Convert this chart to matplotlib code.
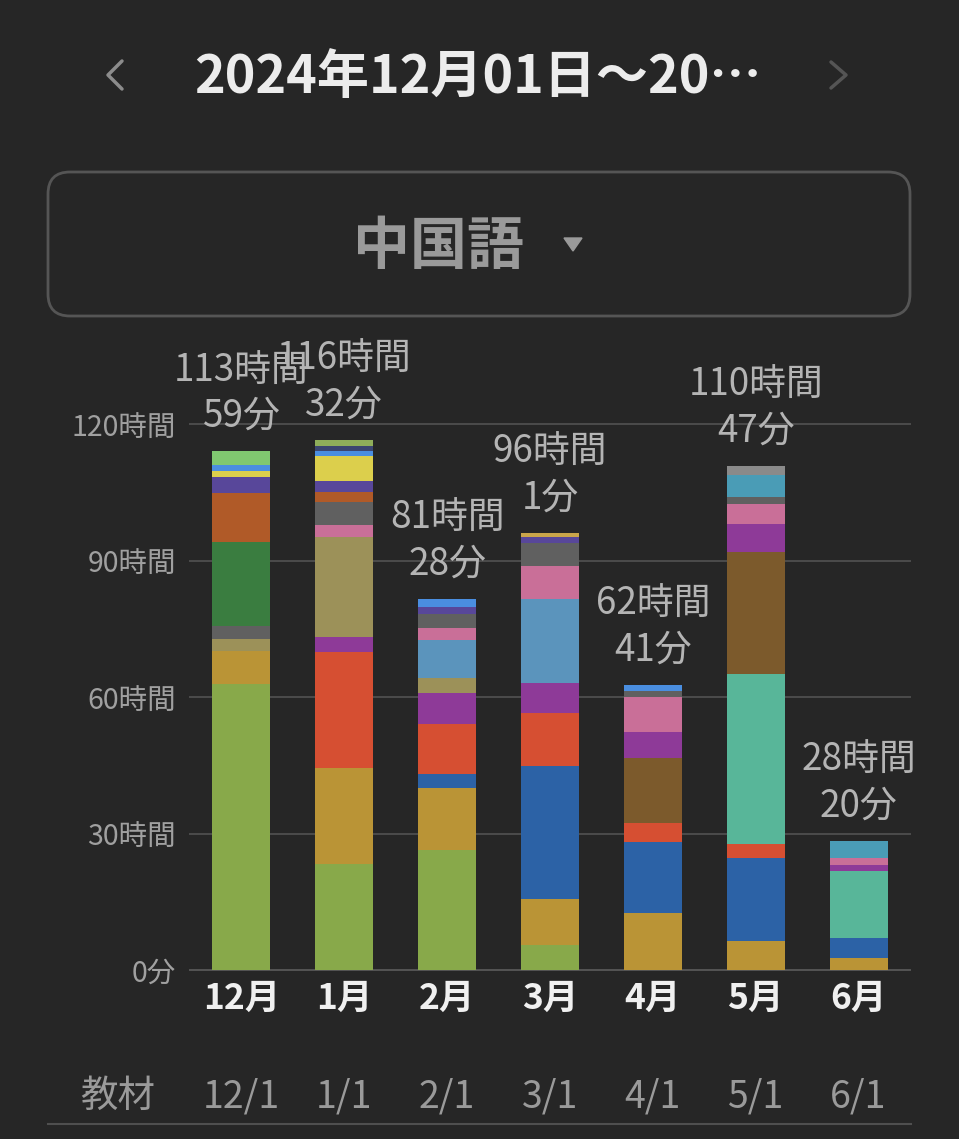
import numpy as np
import matplotlib
matplotlib.use("Agg")
import matplotlib.pyplot as plt
from matplotlib.patches import FancyBboxPatch, Polygon
from matplotlib.transforms import blended_transform_factory

plt.rcParams['font.family'] = ['Noto Sans CJK JP', 'DejaVu Sans']

BG = '#262626'

# months on the x axis and the row of start dates below
months = ["12月", "1月", "2月", "3月", "4月", "5月", "6月"]
start_dates = ["12/1", "1/1", "2/1", "3/1", "4/1", "5/1", "6/1"]

# totals shown above each bar
total_hours = [113, 116, 81, 96, 62, 110, 28]
total_minutes = [59, 32, 28, 1, 41, 47, 20]

# hours per material, Dec..Jun (stacked bottom -> top in this order)
green       = [62.9, 23.3, 26.3,  5.5,  0.0,  0.0,  0.0]
gold        = [ 7.3, 21.2, 13.7, 10.0, 12.5,  6.3,  2.6]
darkblue    = [ 0.0,  0.0,  3.1, 29.4, 15.7, 18.4,  4.5]
red         = [ 0.0, 25.3, 10.9, 11.6,  4.2,  3.1,  0.0]
tealgreen   = [ 0.0,  0.0,  0.0,  0.0,  0.0, 37.2, 14.7]
brown       = [ 0.0,  0.0,  0.0,  0.0, 14.1, 26.8,  0.0]
purple      = [ 0.0,  3.4,  6.8,  6.5,  5.7,  6.2,  1.3]
khaki       = [ 2.6, 21.9,  3.4,  0.0,  0.0,  0.0,  0.0]
steelblue   = [ 0.0,  0.0,  8.3, 18.6,  0.0,  0.0,  0.0]
pink        = [ 0.0,  2.8,  2.6,  7.2,  7.8,  4.4,  1.6]
gray        = [ 2.7,  5.0,  3.1,  5.1,  1.4,  1.6,  0.0]
darkgreen   = [18.6,  0.0,  0.0,  0.0,  0.0,  0.0,  0.0]
orangebrown = [10.8,  2.2,  0.0,  0.0,  0.0,  0.0,  0.0]
slatepurple = [ 3.5,  2.4,  1.6,  1.2,  0.0,  0.0,  0.0]
yellow      = [ 1.3,  5.4,  0.0,  0.0,  0.0,  0.0,  0.0]
blue        = [ 1.3,  1.2,  1.67, 0.0,  1.28, 0.0,  0.0]
navy        = [ 0.0,  1.0,  0.0,  0.0,  0.0,  0.0,  0.0]
olive       = [ 0.0,  1.43, 0.0,  0.0,  0.0,  0.0,  0.0]
lightgreen  = [ 2.98, 0.0,  0.0,  0.0,  0.0,  0.0,  0.0]
tealblue    = [ 0.0,  0.0,  0.0,  0.0,  0.0,  4.8,  3.63]
lightgray   = [ 0.0,  0.0,  0.0,  0.0,  0.0,  1.98, 0.0]
tan         = [ 0.0,  0.0,  0.0,  0.92, 0.0,  0.0,  0.0]

series = [green, gold, darkblue, red, tealgreen, brown, purple, khaki,
          steelblue, pink, gray, darkgreen, orangebrown, slatepurple,
          yellow, blue, navy, olive, lightgreen, tealblue, lightgray, tan]
colors = ['#88a94a', '#ba9436', '#2c62a6', '#d64f32', '#58b699', '#7c5a2c',
          '#8e3a98', '#9c9159', '#5b94bc', '#c96f98', '#606060', '#3a7d40',
          '#b05a28', '#58479a', '#dccf4c', '#4a8ee0', '#3c4670', '#8fae5a',
          '#80c870', '#4a9cb6', '#8a8a8a', '#c9a54a']

yticks = [0, 30, 60, 90, 120]

fig = plt.figure(figsize=(9.59, 11.39), dpi=100)
fig.patch.set_facecolor(BG)

# background layer in pixel coordinates (header, dropdown, footer row)
bg = fig.add_axes([0, 0, 1, 1])
bg.set_xlim(0, 959)
bg.set_ylim(1139, 0)
bg.axis('off')

bg.text(478, 77, "2024年12月01日～20…", fontsize=37.5, weight='bold',
        color='#ececec', ha='center', va='center')
bg.plot([122, 108, 122], [61, 75, 89], color='#8c8c8c', lw=2.5, solid_capstyle='round')
bg.plot([831, 846, 831], [62, 75, 88], color='#555555', lw=2.5, solid_capstyle='round')

bg.add_patch(FancyBboxPatch((48, 172), 862, 144,
                            boxstyle='round,pad=0,rounding_size=22',
                            fc='none', ec='#555555', lw=2))
bg.text(438, 247, "中国語", fontsize=41, weight='bold', color='#9a9a9a',
        ha='center', va='center')
bg.add_patch(Polygon([[564, 238], [582, 238], [573, 251]], closed=True,
                     color='#9a9a9a'))

bg.text(118, 1096, "教材", fontsize=27, color='#9a9a9a', ha='center', va='center')
bg.plot([48, 911], [1124, 1124], color='#4f4f4f', lw=1.5)

# chart
ax = fig.add_axes([190 / 959, 1 - 970 / 1139, 720 / 959, 546 / 1139])
ax.set_facecolor('none')

x = np.arange(len(months))
bottom = np.zeros(len(months))
for vals, c in zip(series, colors):
    vals = np.array(vals)
    ax.bar(x, vals, 0.565, bottom=bottom, color=c, linewidth=0, zorder=3)
    bottom += vals

for v in yticks:
    ax.axhline(v, color='#4c4c4c' if v else '#555555', lw=1.4, zorder=1, clip_on=False)

for i in range(len(months)):
    ax.annotate(f"{total_hours[i]}時間\n{total_minutes[i]}分", xy=(i, bottom[i]),
                xytext=(0, 11), textcoords='offset points', ha='center', va='bottom',
                fontsize=26.5, color='#b4b4b4', linespacing=1.22,
                annotation_clip=False, zorder=5)

trans = blended_transform_factory(ax.transData, ax.transAxes)
for i, d in enumerate(start_dates):
    ax.text(i, (970 - 1097) / 546, d, transform=trans, fontsize=27,
            color='#9a9a9a', ha='center', va='center')

ax.set_xlim(-0.5, 6.5)
ax.set_ylim(0, 120)
ax.set_yticks(yticks)
ax.set_yticklabels([f"{v}時間" if v else "0分" for v in yticks])
ax.set_xticks(x)
ax.set_xticklabels(months, fontweight='bold')
ax.tick_params(axis='y', length=0, pad=10, labelsize=20.5, labelcolor='#a0a0a0')
ax.tick_params(axis='x', length=0, pad=8, labelsize=25.5, labelcolor='#f0f0f0')
for s in ax.spines.values():
    s.set_visible(False)

fig.savefig('out.png', dpi=100, facecolor=BG)
